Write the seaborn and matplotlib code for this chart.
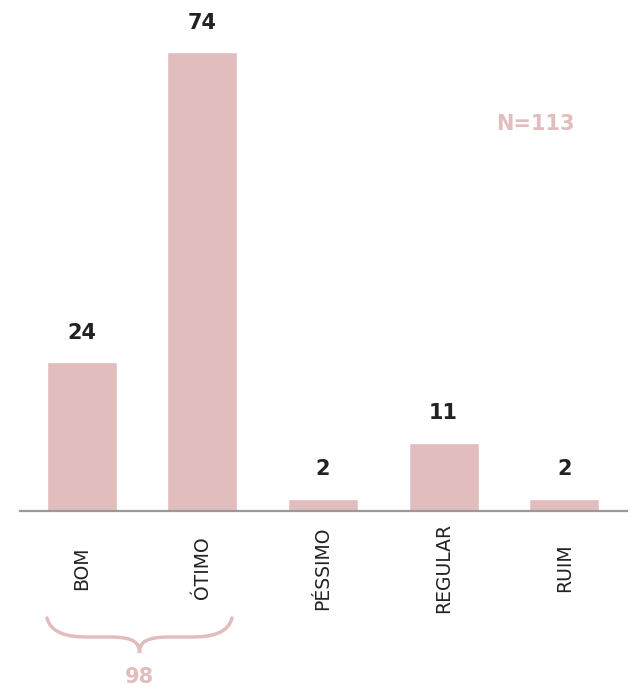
import matplotlib
matplotlib.use("Agg")
import matplotlib.pyplot as plt
from matplotlib.path import Path
from matplotlib.patches import PathPatch
import seaborn as sns
import pandas as pd

categories = ["BOM", "ÓTIMO", "PÉSSIMO", "REGULAR", "RUIM"]
values = [24, 74, 2, 11, 2]
total_label = "N=113"
group_label = "98"

pink = "#E2BDBD"
dark = "#222222"

sns.set_theme(style="white")
plt.rcParams["font.family"] = ["DejaVu Sans"]

df = pd.DataFrame({"cat": categories, "val": values})

W, H = 630, 688
fig = plt.figure(figsize=(6.3, 6.88), dpi=100)
ax = fig.add_axes([20 / W, 177 / H, 607 / W, 511 / H])

sns.barplot(data=df, x="cat", y="val", color=pink, saturation=1, width=0.58, ax=ax)

ax.set_xlim(-0.51, 4.52)
ax.set_ylim(0, 82.4)
ax.set_xlabel("")
ax.set_ylabel("")
ax.set_yticks([])
for s in ["top", "left", "right"]:
    ax.spines[s].set_visible(False)
ax.spines["bottom"].set_color("#999999")
ax.spines["bottom"].set_linewidth(1.6)

# labels are centred on a common line below the axis
ax.tick_params(axis="x", length=0, pad=41)
for lab in ax.get_xticklabels():
    lab.set_rotation(90)
    lab.set_verticalalignment("center")
    lab.set_fontsize(13.5)
    lab.set_fontweight("normal")
    lab.set_color(dark)

for i, v in enumerate(values):
    ax.annotate(str(v), (i, v), xytext=(0, 14), textcoords="offset points",
                ha="center", va="bottom", fontsize=15, fontweight="bold", color=dark)

fig.text(535 / W, 1 - 124 / H, total_label, ha="center", va="center",
         fontsize=15, fontweight="bold", color=pink)

# brace under the first two bars (figure pixel coords, y from top)
def px(x, y):
    return (x / W, 1 - y / H)

x0, x1, xm = 47, 232, 139.5
verts = [px(x0, 618),
         px(x0 + 4, 633), px(x0 + 20, 637), px(x0 + 40, 637),
         px(xm - 30, 637),
         px(xm - 5, 637), px(xm, 643), px(xm, 653),
         px(xm, 643), px(xm + 5, 637), px(xm + 30, 637),
         px(x1 - 40, 637),
         px(x1 - 20, 637), px(x1 - 4, 633), px(x1, 618)]
codes = [Path.MOVETO,
         Path.CURVE4, Path.CURVE4, Path.CURVE4,
         Path.LINETO,
         Path.CURVE4, Path.CURVE4, Path.CURVE4,
         Path.CURVE4, Path.CURVE4, Path.CURVE4,
         Path.LINETO,
         Path.CURVE4, Path.CURVE4, Path.CURVE4]
brace = PathPatch(Path(verts, codes), transform=fig.transFigure, fill=False,
                  edgecolor=pink, linewidth=2.5, capstyle="round")
fig.patches.append(brace)

fig.text(xm / W, 1 - 677 / H, group_label, ha="center", va="center",
         fontsize=15, fontweight="bold", color=pink)

fig.savefig("out.png", dpi=100)
